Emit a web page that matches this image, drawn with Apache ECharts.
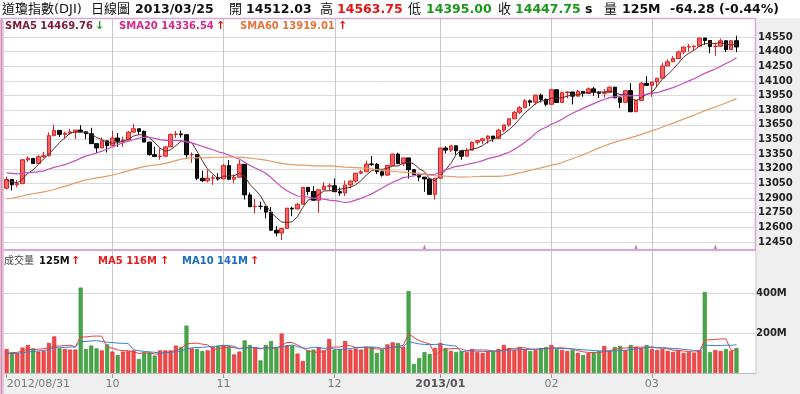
<!DOCTYPE html>
<html><head><meta charset="utf-8">
<script src="https://cdn.jsdelivr.net/npm/echarts@6/dist/echarts.min.js"></script>
<style>
html,body{margin:0;padding:0;background:#efefef;}
#wrap{position:relative;width:800px;height:394px;overflow:hidden;background:#efefef;}
.bg{position:absolute;background:#fff;}
#chart{position:absolute;left:0;top:0;width:800px;height:394px;}
</style></head><body>
<div id="wrap">
<div class="bg" style="left:0;top:0;width:800px;height:18px"></div>
<div class="bg" style="left:4px;top:18px;width:751px;height:355px"></div>
<div id="chart"></div>
</div>
<script>
// ---------- DATA ----------
const dates = [
'2012/08/31',
'2012/09/04','2012/09/05','2012/09/06','2012/09/07','2012/09/10','2012/09/11','2012/09/12','2012/09/13','2012/09/14','2012/09/17','2012/09/18','2012/09/19','2012/09/20','2012/09/21','2012/09/24','2012/09/25','2012/09/26','2012/09/27','2012/09/28',
'2012/10/01','2012/10/02','2012/10/03','2012/10/04','2012/10/05','2012/10/08','2012/10/09','2012/10/10','2012/10/11','2012/10/12','2012/10/15','2012/10/16','2012/10/17','2012/10/18','2012/10/19','2012/10/22','2012/10/23','2012/10/24','2012/10/25','2012/10/26','2012/10/31',
'2012/11/01','2012/11/02','2012/11/05','2012/11/06','2012/11/07','2012/11/08','2012/11/09','2012/11/12','2012/11/13','2012/11/14','2012/11/15','2012/11/16','2012/11/19','2012/11/20','2012/11/21','2012/11/23','2012/11/26','2012/11/27','2012/11/28','2012/11/29','2012/11/30',
'2012/12/03','2012/12/04','2012/12/05','2012/12/06','2012/12/07','2012/12/10','2012/12/11','2012/12/12','2012/12/13','2012/12/14','2012/12/17','2012/12/18','2012/12/19','2012/12/20','2012/12/21','2012/12/24','2012/12/26','2012/12/27','2012/12/28','2012/12/31',
'2013/01/02','2013/01/03','2013/01/04','2013/01/07','2013/01/08','2013/01/09','2013/01/10','2013/01/11','2013/01/14','2013/01/15','2013/01/16','2013/01/17','2013/01/18','2013/01/22','2013/01/23','2013/01/24','2013/01/25','2013/01/28','2013/01/29','2013/01/30','2013/01/31',
'2013/02/01','2013/02/04','2013/02/05','2013/02/06','2013/02/07','2013/02/08','2013/02/11','2013/02/12','2013/02/13','2013/02/14','2013/02/15','2013/02/19','2013/02/20','2013/02/21','2013/02/22','2013/02/25','2013/02/26','2013/02/27','2013/02/28',
'2013/03/01','2013/03/04','2013/03/05','2013/03/06','2013/03/07','2013/03/08','2013/03/11','2013/03/12','2013/03/13','2013/03/14','2013/03/15','2013/03/18','2013/03/19','2013/03/20','2013/03/21','2013/03/22','2013/03/25'
];

const closes = [
13090.84,
13035.94,13047.48,13292.00,13306.64,13254.29,13323.36,13333.35,13539.86,13593.37,13553.10,13564.64,13577.96,13596.93,13579.47,13558.92,13457.55,13413.51,13485.97,13437.13,
13515.11,13482.36,13494.61,13575.36,13610.15,13583.65,13473.53,13344.97,13326.39,13328.85,13424.23,13551.78,13557.00,13548.94,13343.51,13345.89,13102.53,13077.34,13103.68,13107.21,13096.46,
13232.62,13093.16,13112.44,13245.68,12932.73,12811.32,12815.39,12815.08,12756.18,12570.95,12542.38,12588.31,12795.96,12788.51,12836.89,13009.68,12967.37,12878.13,12985.11,13021.82,13025.58,
12965.60,12951.78,13034.49,13074.04,13155.13,13169.88,13248.44,13245.45,13170.72,13135.01,13235.39,13350.96,13251.97,13311.72,13190.84,13139.08,13114.59,13096.31,12938.11,13104.14,
13412.55,13391.36,13435.21,13384.29,13328.85,13390.51,13471.22,13488.43,13507.32,13534.89,13511.23,13596.02,13649.70,13712.21,13779.33,13825.33,13895.98,13881.93,13954.42,13910.42,13860.58,
14009.79,13880.08,13979.30,13986.52,13944.05,13992.97,13971.24,14018.70,13982.91,13973.39,13981.76,14035.67,13927.54,13880.62,14000.57,13784.17,13900.13,14075.37,14054.49,
14089.66,14127.82,14253.77,14296.24,14329.49,14397.07,14447.29,14450.06,14455.28,14539.14,14514.11,14452.06,14455.82,14511.73,14421.49,14512.03,14447.75
];

const opens = [
13000.71,
13090.84,13035.94,13047.48,13292.00,13306.64,13254.29,13323.36,13333.35,13539.86,13593.37,13553.10,13564.64,13577.96,13596.93,13579.47,13558.92,13457.55,13413.51,13485.97,
13437.13,13515.11,13482.36,13494.61,13575.36,13610.15,13583.65,13473.53,13344.97,13326.39,13328.85,13424.23,13551.78,13557.00,13548.94,13343.51,13345.89,13102.53,13077.34,13103.68,13107.21,
13096.46,13232.62,13093.16,13112.44,13245.68,12932.73,12811.32,12815.39,12815.08,12756.18,12570.95,12542.38,12588.31,12795.96,12788.51,12836.89,13009.68,12967.37,12878.13,12985.11,13021.82,
13025.58,12965.60,12951.78,13034.49,13074.04,13155.13,13169.88,13248.44,13245.45,13170.72,13135.01,13235.39,13350.96,13251.97,13311.72,13190.84,13139.08,13114.59,13096.31,12938.11,
13104.14,13412.55,13391.36,13435.21,13384.29,13328.85,13390.51,13471.22,13488.43,13507.32,13534.89,13511.23,13596.02,13649.70,13712.21,13779.33,13825.33,13895.98,13881.93,13954.42,13910.42,
13860.58,14009.79,13880.08,13979.30,13986.52,13944.05,13992.97,13971.24,14018.70,13982.91,13973.39,13981.76,14035.67,13927.54,13880.62,14000.57,13784.17,13900.13,14075.37,
14054.49,14089.66,14127.82,14253.77,14296.24,14329.49,14397.07,14447.29,14450.06,14455.28,14539.14,14514.11,14452.06,14455.82,14511.73,14421.49,14512.03
];

const highs = [
13120,
13095,13085,13301,13329,13307,13340,13373,13573,13653,13594,13582,13610,13597,13647,13580,13620,13458,13522,13486,
13590,13567,13529,13586,13661,13611,13592,13476,13427,13410,13431,13561,13588,13592,13549,13368,13346,13180,13189,13136,13155,
13247,13289,13140,13290,13246,12958,12893,12863,12816,12808,12612,12589,12801,12811,12849,13010,13010,13022,12986,13063,13050,
13100,13008,13080,13080,13158,13189,13284,13330,13259,13180,13236,13354,13365,13312,13312,13191,13160,13115,13097,13105,
13413,13430,13436,13436,13385,13413,13480,13489,13508,13543,13535,13610,13650,13713,13790,13843,13915,13909,13958,13969,13919,
14019,14010,13992,13994,13987,14008,13993,14033,14039,13998,14017,14044,14039,13928,14001,14077,13909,14090,14150,
14090,14128,14287,14320,14354,14413,14448,14478,14466,14540,14540,14515,14492,14534,14512,14515,14563.75
];

const lows = [
12990,
12978,13010,13046,13269,13251,13253,13308,13325,13533,13526,13510,13550,13505,13575,13504,13457,13362,13413,13367,
13437,13424,13424,13494,13575,13552,13473,13335,13320,13293,13325,13424,13515,13520,13313,13260,13083,13063,13060,13035,13080,
13096,13083,13051,13112,12885,12811,12743,12784,12692,12566,12508,12471,12588,12714,12786,12836,12931,12872,12750,12985,12975,
12963,12923,12920,12999,13060,13144,13169,13230,13146,13119,13135,13235,13248,13226,13100,13136,13073,12964,12935,12884,
13104,13358,13370,13345,13293,13328,13390,13447,13452,13457,13477,13511,13577,13631,13712,13761,13825,13843,13856,13880,13840,
13860,13876,13880,13921,13859,13944,13938,13971,13948,13925,13930,13981,13922,13822,13880,13784,13782,13900,14053,
13937,14034,14128,14254,14296,14329,14373,14400,14410,14455,14470,14383,14357,14455,14395,14421,14395.00
];

// volume in millions
const volumes = [
120,103,97,127,140,123,107,110,150,183,123,120,117,117,427,120,137,123,113,143,
107,90,107,110,113,70,103,103,87,113,113,113,137,130,237,123,120,110,113,130,137,
140,133,93,107,163,140,127,63,140,160,130,197,137,137,97,60,113,117,130,113,170,
117,120,160,117,123,117,130,130,100,117,143,153,150,130,410,45,75,105,95,125,
150,125,110,105,110,105,120,105,100,110,110,120,140,125,115,130,120,110,115,125,130,
140,120,115,110,115,100,90,100,105,110,135,110,130,135,115,140,130,125,140,
120,115,120,110,105,115,100,105,100,115,405,105,115,110,120,110,125
];

// closes of the 59 sessions before the window (needed for the moving averages)
const priorCloses = [
12554.20,12411.23,12573.80,12496.15,12651.91,12767.17,12741.82,12837.33,12824.39,12573.57,12640.78,12502.66,12534.67,12627.01,12602.26,12880.09,
12871.39,12943.82,12896.67,12772.47,12736.29,12653.12,12604.53,12573.27,12777.09,12727.21,12805.54,12908.70,12943.36,12822.57,12721.46,12617.32,12676.05,12887.93,13075.66,13073.01,13008.68,
12976.13,12878.88,13096.17,13117.51,13168.60,13175.64,13165.19,13207.95,13169.43,13172.14,13164.78,13250.11,13275.20,13271.64,13203.58,13172.76,13057.46,13157.97,13124.67,13102.99,13107.48,13000.71
];
const priorVolumes = [85,90,95,100,95,85,90,95,100];

const xTickIdx = [0,20,41,62,82,103,122];
const xTickLabels = ['2012/08/31','10','11','12','2013/01','02','03'];
const eventIdx = [79,119,134];
const emptySlots = 3;

// ---------- derived ----------
function movingAvg(prior, vals, n){
  const all = prior.concat(vals), off = prior.length, out = [];
  for (let i = 0; i < vals.length; i++) {
    const end = off + i;
    if (end - n + 1 < 0) { out.push(null); continue; }
    let s = 0; for (let k = end - n + 1; k <= end; k++) s += all[k];
    out.push(+(s / n).toFixed(2));
  }
  return out;
}
const sma5 = movingAvg(priorCloses, closes, 5);
const sma20 = movingAvg(priorCloses, closes, 20);
const sma60 = movingAvg(priorCloses, closes, 60);
const vma5 = movingAvg(priorVolumes, volumes, 5);
const vma10 = movingAvg(priorVolumes, volumes, 10);

const axisCats = dates.concat(Array.from({length: emptySlots}, (_, i) => ' ' + i));
const candleData = closes.map((c, i) => [opens[i], c, lows[i], highs[i]]);
const UPF = '#f46464', UPB = '#dc2222', DNF = '#111111', DNB = '#000000';
const volData = volumes.map((v, i) => {
  const up = closes[i] >= opens[i];
  return {value: v, itemStyle: {color: up ? '#f04c4c' : '#47a847', borderColor: up ? '#d61e1e' : '#2e8a2e', borderWidth: 0.6}};
});
const evData = eventIdx.map(i => [i, 12395]);

const FONT = "'DejaVu Sans', 'Noto Sans CJK TC', sans-serif";
const isTick = (idx) => xTickIdx.indexOf(idx) >= 0;

const chart = echarts.init(document.getElementById('chart'), null, {renderer: 'canvas'});
chart.setOption({
  animation: false,
  backgroundColor: 'transparent',
  grid: [
    {left: 4, width: 751, top: 37, height: 205},
    {left: 4, width: 751, top: 253, height: 120}
  ],
  xAxis: [
    {type: 'category', gridIndex: 0, data: axisCats, boundaryGap: true,
     axisLine: {show: false}, axisTick: {show: false}, axisLabel: {show: false}, splitLine: {show: false}},
    {type: 'category', gridIndex: 1, data: axisCats, boundaryGap: true,
     axisLine: {show: false},
     axisTick: {show: true, alignWithLabel: true, length: 5, interval: (i) => isTick(i), lineStyle: {color: '#9a9a9a'}},
     axisLabel: {show: true, interval: (i) => isTick(i), margin: 6, color: '#7a7a7a', fontSize: 11, fontFamily: FONT,
       alignMinLabel: 'left',
       formatter: (v, i) => { const k = xTickIdx.indexOf(i); if (k < 0) return ''; const t = xTickLabels[k]; return t.indexOf('2013') === 0 ? '{b|' + t + '}' : t; },
       rich: {b: {fontWeight: 'bold', color: '#555', fontSize: 11, fontFamily: FONT}}},
     splitLine: {show: false}}
  ],
  yAxis: [
    {type: 'value', gridIndex: 0, position: 'right', min: 12450, max: 14550, interval: 150,
     axisLine: {show: false}, axisTick: {show: false},
     axisLabel: {margin: 3, color: '#222', fontWeight: 'bold', fontSize: 10, fontFamily: FONT, formatter: (v) => String(v)},
     splitLine: {lineStyle: {color: '#d9d9d9', width: 1}}},
    {type: 'value', gridIndex: 1, position: 'right', min: 0, max: 600, interval: 200,
     axisLine: {show: false}, axisTick: {show: false},
     axisLabel: {margin: 1, color: '#222', fontWeight: 'bold', fontSize: 10, fontFamily: FONT,
       showMinLabel: false, showMaxLabel: false, formatter: (v) => v + 'M'},
     splitLine: {showMaxLine: false, lineStyle: {color: '#d9d9d9', width: 1}}}
  ],
  series: [
    {type: 'candlestick', xAxisIndex: 0, yAxisIndex: 0, data: candleData, barWidth: 4, clip: false,
     itemStyle: {color: UPF, color0: DNF, borderColor: UPB, borderColor0: DNB, borderWidth: 1}},
    {type: 'line', xAxisIndex: 0, yAxisIndex: 0, data: sma5, symbol: 'none', clip: false,
     lineStyle: {color: '#5e2a2a', width: 1}},
    {type: 'line', xAxisIndex: 0, yAxisIndex: 0, data: sma20, symbol: 'none', clip: false,
     lineStyle: {color: '#c24cbf', width: 1.2}},
    {type: 'line', xAxisIndex: 0, yAxisIndex: 0, data: sma60, symbol: 'none', clip: false,
     lineStyle: {color: '#e39a66', width: 1.2}},
    {type: 'scatter', xAxisIndex: 0, yAxisIndex: 0, data: evData, symbol: 'triangle', symbolSize: [4, 6], clip: false,
     itemStyle: {color: '#b05a90'}},
    {type: 'bar', xAxisIndex: 1, yAxisIndex: 1, data: volData, barWidth: 4},
    {type: 'line', xAxisIndex: 1, yAxisIndex: 1, data: vma5, symbol: 'none', lineStyle: {color: '#e84040', width: 1}},
    {type: 'line', xAxisIndex: 1, yAxisIndex: 1, data: vma10, symbol: 'none', lineStyle: {color: '#3a80c8', width: 1}}
  ]
});

// ---------- graphics (frames, month separators, header, legends) ----------
const els = [];
xTickIdx.forEach((idx, k) => {
  if (k === 0) return;
  const x = Math.round(chart.convertToPixel({xAxisIndex: 0}, idx)) + 0.5;
  els.push({type: 'line', z: 1, silent: true, shape: {x1: x, y1: 19, x2: x, y2: 250}, style: {stroke: '#c6c6c6', lineWidth: 1}});
  els.push({type: 'line', z: 1, silent: true, shape: {x1: x, y1: 251, x2: x, y2: 373}, style: {stroke: '#c6c6c6', lineWidth: 1}});
});
// frames
els.push({type: 'line', z: 50, shape: {x1: 4, y1: 18.5, x2: 755.5, y2: 18.5}, style: {stroke: '#d9a7dc', lineWidth: 1.5}});
els.push({type: 'line', z: 50, shape: {x1: 755.5, y1: 18.5, x2: 755.5, y2: 250}, style: {stroke: '#d9a7dc', lineWidth: 1.5}});
els.push({type: 'line', z: 50, shape: {x1: 4, y1: 250, x2: 756, y2: 250}, style: {stroke: '#d9a7dc', lineWidth: 2}});
els.push({type: 'line', z: 50, shape: {x1: 756, y1: 251, x2: 756, y2: 373.5}, style: {stroke: '#d2d2d2', lineWidth: 1}});
els.push({type: 'line', z: 50, shape: {x1: 4, y1: 373.5, x2: 756, y2: 373.5}, style: {stroke: '#bdbdbd', lineWidth: 1}});
els.push({type: 'line', z: 50, shape: {x1: 1.5, y1: 18, x2: 1.5, y2: 394}, style: {stroke: '#d48fb4', lineWidth: 2}});
els.push({type: 'line', z: 50, shape: {x1: 3.5, y1: 18, x2: 3.5, y2: 394}, style: {stroke: '#e9c3df', lineWidth: 1}});

function txt(x, y, s, color, bold, size) {
  els.push({type: 'text', z: 60, silent: true, x: x, y: y,
    style: {text: s, fill: color, font: (bold ? 'bold ' : '') + (size || 13) + 'px ' + FONT, align: 'left', verticalAlign: 'middle'}});
}
// header
const HY = 9.5;
txt(2, HY, '道瓊指數(DJI)', '#111', false, 13);
txt(91, HY, '日線圖', '#111', false, 13);
txt(135, HY, '2013/03/25', '#111', true, 12.5);
txt(229, HY, '開', '#111', false, 13);
txt(246, HY, '14512.03', '#111', true, 12.5);
txt(320, HY, '高', '#111', false, 13);
txt(337, HY, '14563.75', '#e81414', true, 12.5);
txt(408, HY, '低', '#111', false, 13);
txt(426, HY, '14395.00', '#1c961c', true, 12.5);
txt(498, HY, '收', '#111', false, 13);
txt(515, HY, '14447.75', '#1c961c', true, 12.5);
txt(585, HY, 's', '#111', true, 12.5);
txt(604, HY, '量', '#111', false, 13);
txt(622, HY, '125M', '#111', true, 12.5);
txt(670, HY, '-64.28 (-0.44%)', '#111', true, 12.5);
// price legend
const LY = 26;
txt(5, LY, 'SMA5 14469.76', '#7a1a34', true, 10);
txt(95, LY, '↓', '#1c9a1c', true, 11);
txt(119, LY, 'SMA20 14336.54', '#d2288c', true, 10);
txt(216, LY, '↑', '#e81010', true, 11);
txt(240, LY, 'SMA60 13919.01', '#e2763a', true, 10);
txt(338, LY, '↑', '#e81010', true, 11);
// volume legend
const VY = 261;
txt(4, VY, '成交量', '#444', false, 10);
txt(39, VY, '125M', '#111', true, 10);
txt(71, VY, '↑', '#e81010', true, 11);
txt(98, VY, 'MA5 116M', '#e81c1c', true, 10);
txt(160, VY, '↑', '#e81010', true, 11);
txt(182, VY, 'MA10 141M', '#1c6cc0', true, 10);
txt(250, VY, '↑', '#e81010', true, 11);

chart.setOption({graphic: {elements: els}});
</script>
</body></html>
